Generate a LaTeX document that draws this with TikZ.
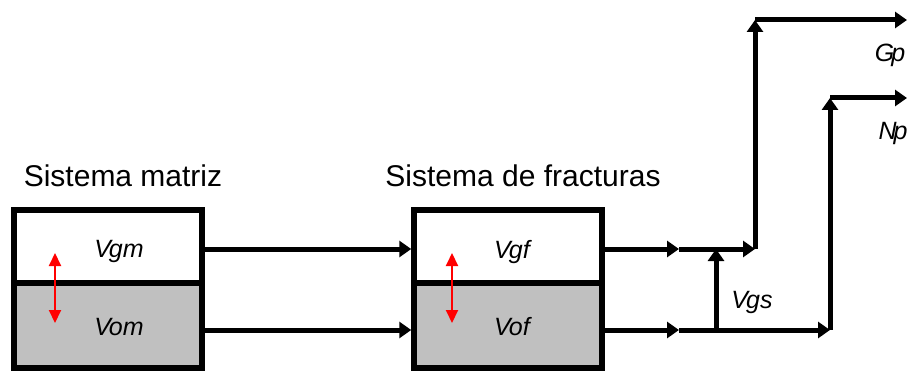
\documentclass[tikz,border=0pt]{standalone}
\usepackage{fontspec}
\setmainfont{Liberation Sans}
\usetikzlibrary{arrows.meta}
\definecolor{boxgray}{HTML}{C0C0C0}
\begin{document}
\begin{tikzpicture}[x=1pt,y=-1pt,
  part/.style={draw=black, line width=5.5pt, minimum width=188pt, inner sep=0pt, anchor=center},
  arr/.style={line width=5pt, -{Triangle[length=12pt,width=16pt]}},
  redarr/.style={red, line width=2pt, {Triangle[length=13pt,width=12pt]}-{Triangle[length=13pt,width=12pt]}},
  title/.style={font=\fontsize{30}{34}\selectfont, anchor=base},
  lab/.style={font=\fontsize{25}{28}\selectfont\itshape, anchor=base}]
\useasboundingbox (0,0) rectangle (909,371);
% left box
\node[part, fill=white, minimum height=73pt] (gm) at (108,246.5) {};
\node[part, fill=boxgray, minimum height=85pt] (om) at (108,325.5) {};
% right box
\node[part, fill=white, minimum height=73pt] (gf) at (508,246.5) {};
\node[part, fill=boxgray, minimum height=85pt] (of) at (508,325.5) {};
% titles
\node[title] (t1) at (123,187) {Sistema matriz};
\node[title] (t2) at (523,187) {Sistema de fracturas};
% labels
\node[lab] (lgm) at (119,257) {V\kern-2pt gm};
\node[lab] (lom) at (119,335) {V\kern-2pt om};
\node[lab] (lgf) at (512,258) {V\kern-2pt gf};
\node[lab] (lof) at (512,335) {V\kern-2pt of};
\node[lab] (lgs) at (752,308) {V\kern-2pt gs};
\node[lab] (lgp) at (890,62) {G\kern-3pt p};
\node[lab] (lnp) at (893,140) {N\kern-3pt p};
% red arrows
\coordinate (r1a) at (55,253); \coordinate (r1b) at (55,323);
\coordinate (r2a) at (452,253); \coordinate (r2b) at (452,323);
\draw[redarr] (r1a) -- (r1b);
\draw[redarr] (r2a) -- (r2b);
% connectors between boxes
\draw[arr] ([yshift=-2.5pt]gm.east) -- ([yshift=-2.5pt]gf.west);
\draw[arr] ([yshift=-4.5pt]om.east) -- ([yshift=-4.5pt]of.west);
% outputs
\coordinate (u1) at (679,249);
\coordinate (u2) at (755,249);
\coordinate (u3) at (755,20);
\coordinate (u4) at (907,20);
\coordinate (l1) at (679,330);
\coordinate (ls) at (716,330);
\coordinate (us) at (716,249);
\coordinate (l2) at (830,330);
\coordinate (l3) at (830,98);
\coordinate (l4) at (907,98);
\draw[arr] ([yshift=-2.5pt]gf.east) -- (u1);
\draw[arr] (u1) -- (u2);
\draw[arr] (u2) -- (u3);
\draw[arr] (u3) -- (u4);
\draw[arr] ([yshift=-4.5pt]of.east) -- (l1);
\draw[arr] (l1) -- (l2);
\draw[arr] (l2) -- (l3);
\draw[arr] (l3) -- (l4);
\draw[arr] (ls) -- (us);
\end{tikzpicture}
\end{document}
